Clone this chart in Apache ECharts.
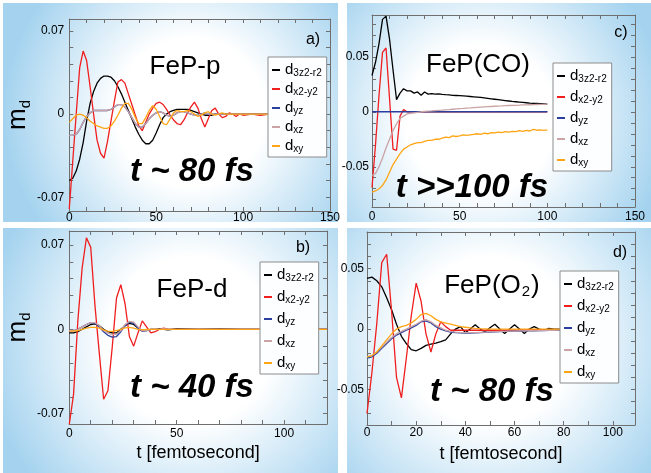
<!DOCTYPE html>
<html>
<head>
<meta charset="utf-8">
<script src="https://cdn.jsdelivr.net/npm/echarts@6/dist/echarts.min.js"></script>
<style>
  html, body { margin: 0; padding: 0; background: #ffffff; }
  #chart { width: 651px; height: 473px; }
</style>
</head>
<body>
<div id="chart"></div>
<script>
const FONT = "'Liberation Sans', Arial, Helvetica, sans-serif";
const ORBITALS = ["d3z2-r2", "dx2-y2", "dyz", "dxz", "dxy"];
const COLORS = ["#000000", "#f01e1e", "#2b3f9e", "#c9a3a5", "#ffa514"];

// a) FeP-p
const T_A = [0,2,4,6,8,10,12,14,16,18,20,22,24,26,28,30,32,34,36,38,40,42,44,46,48,50,52,54,56,58,60,62,64,66,68,70,72,74,76,78,80,82,84,86,88,90,92,94,96,98,100,105,110,115,120];
const A_3Z2 = [-0.056,-0.054,-0.048,-0.038,-0.024,-0.006,0.009,0.019,0.026,0.030,
  0.032,0.032,0.031,0.028,0.023,0.017,0.010,0.003,-0.004,-0.011,
  -0.017,-0.022,-0.025,-0.025,-0.022,-0.016,-0.009,-0.003,0.000,0.002,
  0.003,0.004,0.004,0.004,0.004,0.003,0.002,0.001,0.000,-0.001,
  -0.001,-0.001,0,0,0,0,0,0,0,0,
  0,0,0,0,0];
const A_X2Y2 = [-0.080,-0.040,0.000,0.039,0.053,0.045,0.023,0.000,-0.022,-0.033,
  -0.037,-0.023,-0.006,0.011,0.027,0.029,0.026,0.017,0.008,-0.001,
  -0.010,-0.014,-0.007,0.000,0.005,0.009,0.010,0.008,0.004,-0.001,
  -0.005,-0.008,-0.009,-0.005,0.001,0.006,0.010,0.005,-0.004,-0.011,
  -0.004,0.003,0.005,0.000,-0.003,-0.002,0.001,0.000,-0.002,0.000,
  -0.001,0.000,-0.001,0.000,0.000];
const A_XZ = [-0.018,-0.018,-0.017,-0.013,-0.007,-0.002,0.001,0.003,0.003,0.003,
  0.003,0.003,0.004,0.006,0.008,0.008,0.006,0.002,-0.003,-0.008,
  -0.011,-0.011,-0.008,-0.004,-0.001,0.001,0.002,0.001,-0.001,-0.002,
  -0.001,0.001,0.002,0.002,0.001,0.000,-0.001,-0.001,0.000,0.001,
  0,0,0,0,0,0,0,0,0,0,
  0,0,0,0,0];
const A_XY = [-0.007,-0.004,-0.001,0.000,-0.001,-0.003,-0.006,-0.008,-0.010,-0.011,
  -0.012,-0.012,-0.010,-0.006,-0.001,0.005,0.009,0.009,0.004,-0.003,
  -0.008,-0.008,-0.003,0.003,0.007,0.004,-0.002,-0.008,-0.009,-0.004,
  0.001,0.003,0.002,0.002,0.003,0.002,0.000,-0.002,-0.001,0.001,
  0.002,0.000,-0.001,0.000,0.001,0,0,0,0,0,
  0,0,0,0,0];

// c) FeP(CO)
const T_C = [0,2,4,6,8,10,12,14,16,18,20,22,24,26,28,30,32,34,36,38,40,42,44,46,48,50,52,54,56,58,60,62,64,66,68,70,72,74,76,78,80,82,84,86,88,90,92,94,96,98,100];
const C_3Z2 = [0.033,0.045,0.062,0.084,0.087,0.066,0.038,0.011,0.017,0.021,
  0.019,0.019,0.017,0.018,0.015,0.018,0.016,0.0165,0.016,0.0162,
  0.0158,0.0155,0.0153,0.015,0.0148,0.0146,0.0144,0.0142,0.0139,0.0136,
  0.0133,0.013,0.0126,0.0122,0.0118,0.0114,0.011,0.0106,0.0102,0.0098,
  0.0094,0.0091,0.0088,0.0085,0.0082,0.0079,0.0077,0.0075,0.0073,0.0071,
  0.0069];
const C_X2Y2 = [-0.069,-0.030,0.015,0.054,0.058,0.012,-0.034,-0.035,-0.004,0.002,
  0,0,0,0,0,0,0,0,0,0,
  0,0,0,0,0,0,0,0,0,0,
  0,0,0,0,0,0,0,0,0,0,
  0,0,0,0,0,0,0,0,0,0,
  0];
const C_YZ = [0,0,0,0,0,0,0,0,0,0,
  0,0,0,0,0,0,0,0,0,0,
  0,0,0,0,0,0,0,0,0,0,
  0,0,0,0,0,0,0,0,0,0,
  0,0,0,0,0,0,0,0,0,0,
  0];
const C_XZ = [-0.058,-0.056,-0.050,-0.042,-0.033,-0.025,-0.017,-0.011,-0.006,-0.004,
  -0.002,-0.0015,-0.001,-0.0005,0.000,0.0003,0.0006,0.0008,0.0011,0.0013,
  0.0015,0.0018,0.002,0.0023,0.0026,0.0028,0.003,0.0033,0.0035,0.0038,
  0.004,0.0042,0.0044,0.0046,0.0048,0.005,0.0052,0.0053,0.0055,0.0057,
  0.0058,0.0059,0.006,0.0062,0.0063,0.0064,0.0065,0.0066,0.0067,0.0068,
  0.0069];
const C_XY = [-0.073,-0.072,-0.070,-0.067,-0.062,-0.055,-0.048,-0.043,-0.038,-0.034,
  -0.032,-0.030,-0.029,-0.028,-0.028,-0.027,-0.026,-0.026,-0.025,-0.025,
  -0.024,-0.023,-0.0235,-0.022,-0.0225,-0.022,-0.021,-0.0215,-0.021,-0.0205,
  -0.020,-0.0205,-0.0195,-0.020,-0.019,-0.0192,-0.0185,-0.019,-0.018,-0.0185,
  -0.0178,-0.018,-0.0172,-0.0178,-0.017,-0.0175,-0.016,-0.0168,-0.0165,-0.017,
  -0.0165];

// b) FeP-d
const T_B = [0,2,4,6,8,10,12,14,16,18,20,22,24,26,28,30,32,34,36,38,40,42,44,46,48,50,60,70,80,90,100,110,120];
const B_3Z2 = [-0.003,-0.003,-0.002,0.000,0.002,0.004,0.0045,0.003,0.000,-0.002,
  -0.003,-0.003,0.000,0.003,0.005,0.004,0.001,-0.001,-0.001,0.000,
  0.000,0.0005,0.000,-0.0005,0.000,0.0005,
  0.000,0.0003,0,0,0,0,0];
const B_X2Y2 = [-0.079,-0.054,0.007,0.051,0.076,0.068,0.019,-0.020,-0.058,-0.051,
  -0.015,0.026,0.037,0.021,-0.006,-0.014,-0.003,0.007,0.002,-0.003,
  -0.002,0.000,0.001,0,0,0,
  0,0,0,0,0,0,0];
const B_YZ = [-0.001,-0.001,0.000,0.002,0.004,0.0055,0.005,0.002,-0.002,-0.005,
  -0.0065,-0.006,-0.002,0.003,0.006,0.005,0.001,-0.0015,-0.001,0.000,
  0,0,0,0,0,0,
  0,0,0,0,0,0,0];
const B_XZ = [-0.001,-0.001,0.000,0.002,0.004,0.0055,0.0055,0.003,-0.001,-0.003,
  -0.0045,-0.004,-0.001,0.004,0.0066,0.006,0.002,-0.001,-0.001,0.000,
  0.0005,0.000,0.0005,0,0,0,
  0,0,0,0,0,0,0];
const B_XY = [-0.0015,-0.0015,-0.001,0.000,0.001,0.0016,0.0016,0.001,-0.0005,-0.0015,
  -0.0017,-0.001,0.000,0.0012,0.0016,0.001,0.000,-0.0005,0,0,
  0,0,0,0,0,0,
  0,0,0,0,0,0,0];

// d) FeP(O2)
const T_D = [0,2,4,6,8,10,12,14,16,18,20,22,24,26,28,30,32,34,36,38,40,42,44,46,48,50,52,54,56,58,60,62,64,66,68,70,72,74,76,78,80];
const D_3Z2 = [0.042,0.043,0.040,0.035,0.026,0.016,0.004,-0.006,-0.012,-0.017,
  -0.018,-0.016,-0.0135,-0.0125,-0.0117,-0.0105,-0.009,-0.004,0.000,0.002,
  -0.003,0.000,0.0036,0.000,-0.0025,0.001,0.004,0.000,-0.0036,0.000,
  0.0036,0.000,-0.0036,0.000,0.002,0.000,-0.001,0.0005,0,0,
  0];
const D_X2Y2 = [-0.070,-0.036,0.005,0.055,0.062,0.015,-0.040,-0.057,-0.024,0.011,
  0.038,0.023,-0.004,-0.019,-0.004,0.006,0.002,-0.001,-0.001,-0.001,
  -0.001,-0.001,-0.001,-0.001,-0.001,-0.001,-0.001,-0.001,-0.001,-0.001,
  -0.001,-0.0008,-0.0008,-0.0008,-0.0006,-0.0006,-0.0005,-0.0005,-0.0004,-0.0004,
  -0.0003];
const D_YZ = [-0.024,-0.023,-0.020,-0.016,-0.012,-0.008,-0.005,-0.003,-0.001,0.001,
  0.003,0.006,0.0068,0.005,0.002,0.000,-0.0015,-0.0025,-0.003,-0.0032,
  -0.0033,-0.0033,-0.0032,-0.003,-0.0028,-0.0026,-0.0024,-0.0022,-0.002,-0.0019,
  -0.0018,-0.0017,-0.0016,-0.0015,-0.0014,-0.0013,-0.0012,-0.0011,-0.001,-0.001,
  -0.001];
const D_XZ = [-0.023,-0.022,-0.019,-0.015,-0.011,-0.007,-0.004,-0.002,0.000,0.002,
  0.004,0.0065,0.0078,0.006,0.003,0.001,-0.001,-0.002,-0.0025,-0.0028,
  -0.003,-0.003,-0.003,-0.0028,-0.0026,-0.0024,-0.0022,-0.002,-0.0019,-0.0018,
  -0.0017,-0.0016,-0.0015,-0.0014,-0.0013,-0.0012,-0.0011,-0.001,-0.001,-0.0009,
  -0.0009];
const D_XY = [-0.023,-0.022,-0.019,-0.014,-0.009,-0.004,0.000,0.002,0.003,0.005,
  0.008,0.012,0.013,0.011,0.008,0.006,0.005,0.004,0.003,0.002,
  0.0015,0.001,0.0005,0.0003,0.0002,0,0,0,0,0,
  0,0,0,0,0,0,0,0,0,0,
  0];

// ticks / tick labels
const TICKS_A_X = [10,20,30,40,50,60,70,80,90,100,110,120,130,140];
const LABELS_A_X = [0,50,100,150];
const TICKS_B_X = [10,20,30,40,50,60,70,80,90,100,110];
const LABELS_B_X = [0,50,100];
const TICKS_D_X = [10,20,30,40,50,60,70,80,90,100];
const LABELS_D_X = [0,20,40,60,80,100];
const TICKS_AB_Y = [-0.07,-0.056,-0.042,-0.028,-0.014,0,0.014,0.028,0.042,0.056,0.07];
const LABELS_AB_Y = [-0.07,0,0.07];
const TICKS_C_Y = [-0.08,-0.07,-0.06,-0.05,-0.04,-0.03,-0.02,-0.01,0,0.01,0.02,0.03,0.04,0.05,0.06,0.07,0.08];
const TICKS_D_Y = [-0.07,-0.06,-0.05,-0.04,-0.03,-0.02,-0.01,0,0.01,0.02,0.03,0.04,0.05,0.06,0.07,0.08];
const LABELS_CD_Y = [-0.05,0,0.05];

const PANELS = [
  { grid: { left: 58, top: 19, width: 272, height: 192 }, xMin: 0, xMax: 150, yMin: -0.0816, yMax: 0.080,
    xTicks: TICKS_A_X, xLabels: LABELS_A_X, yTicks: TICKS_AB_Y, yLabels: LABELS_AB_Y, xMargin: 1, yMargin: 5,
    md: true, xName: null, times: T_A, values: [A_3Z2, A_X2Y2, A_XZ, A_XZ, A_XY],
    legend: { left: 268, top: 57, gap: 1 } },
  { grid: { left: 372, top: 15, width: 263, height: 192 }, xMin: 0, xMax: 150, yMin: -0.0866, yMax: 0.088,
    xTicks: TICKS_A_X, xLabels: LABELS_A_X, yTicks: TICKS_C_Y, yLabels: LABELS_CD_Y, xMargin: 4, yMargin: 3,
    md: false, xName: null, times: T_C, values: [C_3Z2, C_X2Y2, C_YZ, C_XZ, C_XY],
    legend: { left: 553, top: 63, gap: 3 } },
  { grid: { left: 58, top: 231, width: 269, height: 193 }, xMin: 0, xMax: 120, yMin: -0.0786, yMax: 0.0816,
    xTicks: TICKS_B_X, xLabels: LABELS_B_X, yTicks: TICKS_AB_Y, yLabels: LABELS_AB_Y, xMargin: 4, yMargin: 5,
    md: true, xName: "t [femtosecond]", times: T_B, values: [B_3Z2, B_X2Y2, B_YZ, B_XZ, B_XY],
    legend: { left: 260, top: 262, gap: 4 } },
  { grid: { left: 367, top: 232, width: 268, height: 193 }, xMin: 0, xMax: 109, yMin: -0.0795, yMax: 0.0804,
    xTicks: TICKS_D_X, xLabels: LABELS_D_X, yTicks: TICKS_D_Y, yLabels: LABELS_CD_Y, xMargin: 2, yMargin: 3,
    md: false, xName: "t [femtosecond]", times: T_D, values: [D_3Z2, D_X2Y2, D_YZ, D_XZ, D_XY],
    legend: { left: 560, top: 271, gap: 4 } },
];

function fmt(v) {
  return v === 0 ? "0" : String(+v.toFixed(3));
}

const axisLine = { onZero: false, lineStyle: { color: "#6f6f6f", width: 1 } };
const labelStyle = { fontSize: 12, color: "#000", fontFamily: FONT, formatter: fmt };

function tickOpt(values) {
  return { show: true, inside: true, length: 4, customValues: values, lineStyle: { color: "#6f6f6f" } };
}

const grids = [], xAxes = [], yAxes = [], series = [], legends = [];

PANELS.forEach((p, i) => {
  grids.push(p.grid);
  const xBase = { type: "value", gridIndex: i, min: p.xMin, max: p.xMax, splitLine: { show: false },
    axisLine, axisTick: tickOpt(p.xTicks) };
  const yBase = { type: "value", gridIndex: i, min: p.yMin, max: p.yMax, splitLine: { show: false },
    axisLine, axisTick: tickOpt(p.yTicks) };
  const xBottom = Object.assign({}, xBase, { position: "bottom",
    axisLabel: Object.assign({ customValues: p.xLabels, margin: p.xMargin }, labelStyle) });
  if (p.xName) {
    Object.assign(xBottom, { name: p.xName, nameLocation: "middle", nameGap: 20,
      nameTextStyle: { fontSize: 18, color: "#000", fontFamily: FONT } });
  }
  const yLeft = Object.assign({}, yBase, { position: "left",
    axisLabel: Object.assign({ customValues: p.yLabels, margin: p.yMargin }, labelStyle) });
  if (p.md) {
    Object.assign(yLeft, { name: "{m|m}{s|d}", nameLocation: "middle", nameGap: 17,
      nameTextStyle: { color: "#000", fontFamily: FONT, rich: {
        m: { fontSize: 26, lineHeight: 28, fontFamily: FONT, color: "#000", verticalAlign: "top" },
        s: { fontSize: 15, lineHeight: 15, fontFamily: FONT, color: "#000", verticalAlign: "bottom", padding: [17, 0, 0, 0] },
      } } });
  }
  xAxes.push(xBottom, Object.assign({}, xBase, { position: "top", axisLabel: { show: false } }));
  yAxes.push(yLeft, Object.assign({}, yBase, { position: "right", axisLabel: { show: false } }));

  ORBITALS.forEach((name, k) => {
    series.push({
      name, type: "line", xAxisIndex: i * 2, yAxisIndex: i * 2,
      data: p.times.map((t, j) => [t, p.values[k][j]]),
      showSymbol: false, symbol: "none",
      lineStyle: { width: 1.3, color: COLORS[k] },
      itemStyle: { color: COLORS[k] },
      emphasis: { disabled: true },
    });
  });

  legends.push({
    left: p.legend.left, top: p.legend.top, orient: "vertical", data: ORBITALS,
    icon: "rect", itemWidth: 8, itemHeight: 2, itemGap: p.legend.gap, selectedMode: false,
    backgroundColor: "#fdfeff", borderColor: "#8c8c8c", borderWidth: 1, padding: [3, 5, 3, 4],
    formatter: (n) => "{d|d}{s|" + n.slice(1) + "}",
    textStyle: { color: "#000", fontFamily: FONT, rich: {
      d: { fontSize: 15, lineHeight: 16, fontFamily: FONT, color: "#000", verticalAlign: "top" },
      s: { fontSize: 10, lineHeight: 10, fontFamily: FONT, color: "#000", verticalAlign: "bottom", padding: [8, 0, 0, 0] },
    } },
    z: 5,
  });
});

// tile backgrounds: pale blue with a white glow in the middle
function tile(x, y, w, h, cx, cy) {
  return {
    type: "rect", z: -10, silent: true,
    shape: { x, y, width: w, height: h },
    style: { fill: { type: "radial", x: cx, y: cy, r: 0.85, colorStops: [
      { offset: 0, color: "#ffffff" }, { offset: 0.4, color: "#ffffff" }, { offset: 1, color: "#a5d3ef" } ] } },
  };
}

function label(text, x, y, size, bold) {
  return {
    type: "text", x, y, z: 1, silent: true,
    style: { text, fill: "#000", fontFamily: FONT, fontSize: size,
      fontWeight: bold ? "bold" : "normal", fontStyle: bold ? "italic" : "normal",
      align: "center", verticalAlign: "middle" },
  };
}

const graphics = [
  tile(3, 3, 335, 219, 0.56, 0.5),
  tile(347, 3, 304, 219, 0.44, 0.53),
  tile(3, 228, 335, 245, 0.56, 0.46),
  tile(347, 228, 304, 245, 0.47, 0.46),
  label("FeP-p", 185, 67, 26),
  label("FeP(CO)", 478, 65, 26),
  label("FeP-d", 192, 290, 26),
  {
    type: "text", x: 492, y: 288, z: 1, silent: true,
    style: { text: "{a|FeP(O}{s|2}{a|)}", fill: "#000", fontFamily: FONT, align: "center", verticalAlign: "middle",
      rich: {
        a: { fontSize: 26, lineHeight: 30, fontFamily: FONT, verticalAlign: "top" },
        s: { fontSize: 15, lineHeight: 15, fontFamily: FONT, verticalAlign: "bottom", padding: [0, 1, 4, 1] },
      } },
  },
  label("t ~ 80 fs", 192, 172, 33, true),
  label("t >>100 fs", 472, 188, 33, true),
  label("t ~ 40 fs", 192, 388, 33, true),
  label("t ~ 80 fs", 492, 392, 33, true),
  label("a)", 313, 40, 16),
  label("c)", 621, 33, 16),
  label("b)", 303, 248, 16),
  label("d)", 620, 253, 16),
];

const chart = echarts.init(document.getElementById("chart"));
chart.setOption({
  animation: false,
  grid: grids,
  xAxis: xAxes,
  yAxis: yAxes,
  legend: legends,
  series,
  graphic: graphics,
});
</script>
</body>
</html>
